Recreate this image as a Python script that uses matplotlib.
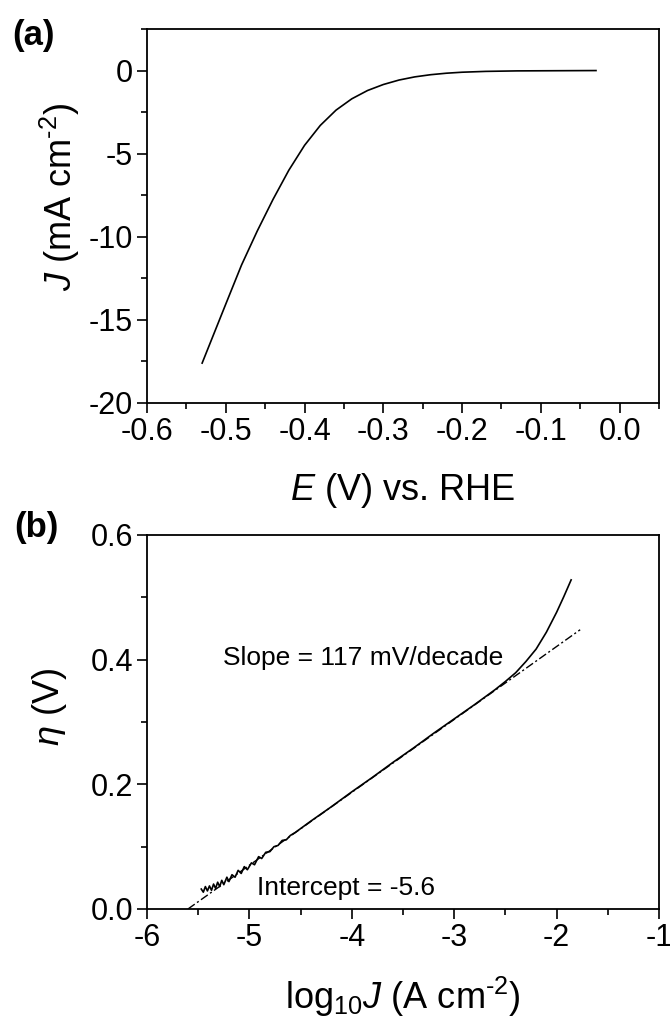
import matplotlib
matplotlib.use("Agg")
import matplotlib.pyplot as plt
from matplotlib.ticker import MultipleLocator

plt.rcParams['font.family'] = ['Liberation Sans', 'DejaVu Sans']
plt.rcParams['mathtext.fontset'] = 'custom'
plt.rcParams['mathtext.rm'] = 'Liberation Sans'
plt.rcParams['mathtext.it'] = 'Liberation Sans:italic'
plt.rcParams['mathtext.bf'] = 'Liberation Sans:bold'
plt.rcParams['axes.unicode_minus'] = False

# ---- Panel (a): polarization curve ----
potential_v = [-0.530, -0.500, -0.480, -0.460, -0.440, -0.420, -0.400, -0.380,
               -0.360, -0.340, -0.320, -0.300, -0.280, -0.260, -0.240, -0.220,
               -0.200, -0.170, -0.130, -0.080, -0.030]
current_ma = [-17.60, -14.05, -11.70, -9.65, -7.75, -6.00, -4.50, -3.30,
              -2.38, -1.70, -1.20, -0.84, -0.57, -0.38, -0.25, -0.16,
              -0.10, -0.05, -0.02, -0.01, 0.00]

# ---- Panel (b): Tafel plot ----
log_j = [-5.47, -5.45, -5.43, -5.41, -5.39, -5.37, -5.35, -5.33, -5.31, -5.29,
         -5.27, -5.25, -5.22, -5.20, -5.17, -5.14, -5.11, -5.08, -5.05, -5.02,
         -4.98, -4.95, -4.91, -4.88, -4.84, -4.80, -4.76, -4.72, -4.68, -4.64,
         -4.60, -4.55, -4.50, -4.40, -4.20, -4.00, -3.80, -3.60, -3.40, -3.20,
         -3.00, -2.80, -2.60, -2.50, -2.40, -2.30, -2.20, -2.10, -2.00, -1.93,
         -1.858]
eta_v = [0.032, 0.027, 0.036, 0.029, 0.037, 0.030, 0.040, 0.033, 0.043, 0.036,
         0.046, 0.039, 0.051, 0.044, 0.055, 0.051, 0.062, 0.057, 0.068, 0.063,
         0.074, 0.071, 0.084, 0.081, 0.091, 0.092, 0.100, 0.102, 0.110, 0.111,
         0.118, 0.123, 0.129, 0.141, 0.164, 0.188, 0.211, 0.235, 0.258, 0.282,
         0.305, 0.328, 0.352, 0.365, 0.379, 0.397, 0.417, 0.444, 0.476, 0.501,
         0.528]
fit_log_j = [-5.60, -1.77]
fit_eta = [0.000, 0.448]

slope_text = "Slope = 117 mV/decade"
intercept_text = "Intercept = -5.6"

fig = plt.figure(figsize=(6.70, 10.23), dpi=100)
ax1 = fig.add_axes([147/670, 1-403/1023, 512/670, 374/1023])
ax2 = fig.add_axes([147/670, 1-909/1023, 512/670, 374/1023])

for ax in (ax1, ax2):
    for s in ax.spines.values():
        s.set_linewidth(1.3)
    ax.tick_params(which='both', direction='out', top=False, right=False,
                   labelsize=22, width=1.2, pad=3)
    ax.tick_params(which='major', length=7)
    ax.tick_params(which='minor', length=4)

ax1.plot(potential_v, current_ma, color='black', lw=1.2)
ax1.set_xlim(-0.6, 0.05)
ax1.set_ylim(-20, 2.5)
ax1.xaxis.set_minor_locator(MultipleLocator(0.05))
ax1.yaxis.set_minor_locator(MultipleLocator(2.5))
ax1.set_xticks([-0.6, -0.5, -0.4, -0.3, -0.2, -0.1, 0.0])
ax1.set_xticklabels(['-0.6', '-0.5', '-0.4', '-0.3', '-0.2', '-0.1', '0.0'])
ax1.set_yticks([0, -5, -10, -15, -20])
ax1.set_yticklabels(['0', '-5', '-10', '-15', '-20'])
ax1.set_xlabel(r'$\mathit{E}$ (V) vs. RHE', fontsize=26)
ax1.xaxis.set_label_coords(0.5, -0.233)
ax1.xaxis.label.set_va('center')
ax1.set_ylabel(r'$\mathit{J}$ (mA cm$^{\text{-}2}$)', fontsize=26)
ax1.yaxis.set_label_coords(-0.17, 0.55)
ax1.yaxis.label.set_va('center')

ax2.plot(log_j, eta_v, color='black', lw=1.2)
ax2.plot(fit_log_j, fit_eta, color='black', lw=1.0, linestyle=(0, (6, 2, 1.5, 2)))
ax2.set_xlim(-6, -1)
ax2.set_ylim(0, 0.6)
ax2.xaxis.set_minor_locator(MultipleLocator(0.5))
ax2.yaxis.set_minor_locator(MultipleLocator(0.1))
ax2.set_xticks([-6, -5, -4, -3, -2, -1])
ax2.set_xticklabels(['-6', '-5', '-4', '-3', '-2', '-1'])
ax2.set_yticks([0.0, 0.2, 0.4, 0.6])
ax2.set_yticklabels(['0.0', '0.2', '0.4', '0.6'])
ax2.set_xlabel(r'log$_{10}$$\mathit{J}$ (A cm$^{\text{-}2}$)', fontsize=26)
ax2.xaxis.set_label_coords(0.5, -0.235)
ax2.xaxis.label.set_va('center')
ax2.set_ylabel(r'$\eta$ (V)', fontsize=26)
ax2.yaxis.set_label_coords(-0.19, 0.54)
ax2.yaxis.label.set_va('center')

ax2.text(-5.26, 0.403, slope_text, fontsize=19, ha='left', va='center')
ax2.text(-4.93, 0.034, intercept_text, fontsize=19, ha='left', va='center')

fig.text(33/670, 1-35/1023, '(a)', fontsize=25, fontweight='bold', ha='center', va='center')
fig.text(36/670, 1-527/1023, '(b)', fontsize=25, fontweight='bold', ha='center', va='center')

fig.savefig('out.png', dpi=100)
